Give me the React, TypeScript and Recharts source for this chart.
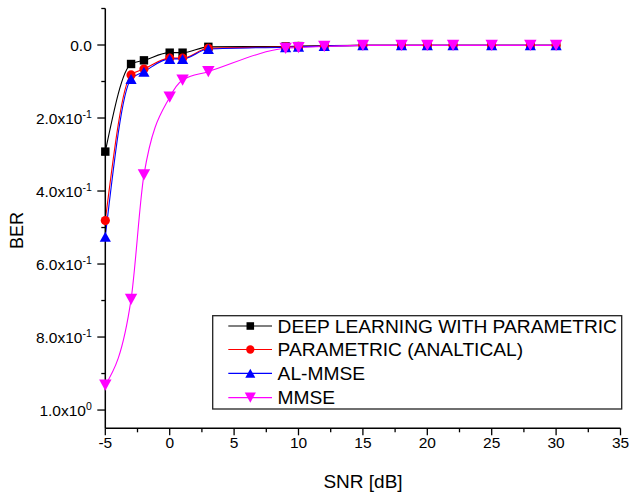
import React from 'react';
import { LineChart, Line, XAxis, YAxis, Legend } from 'recharts';

const snr = [-5, -3, -2, 0, 1, 3, 9, 10, 12, 15, 18, 20, 22, 25, 28, 30];
const deepLearning = [0.292, 0.052, 0.042, 0.021, 0.021, 0.005, 0.004, 0.003, 0.002, 0.001, 0.001, 0.001, 0.001, 0.001, 0.001, 0.001];
const parametric = [0.481, 0.082, 0.066, 0.036, 0.036, 0.009, 0.005, 0.004, 0.003, 0.001, 0.001, 0.001, 0.001, 0.001, 0.001, 0.001];
const alMmse = [0.525, 0.093, 0.073, 0.038, 0.038, 0.011, 0.006, 0.005, 0.003, 0.001, 0.001, 0.001, 0.001, 0.001, 0.001, 0.001];
const mmse = [0.932, 0.697, 0.356, 0.143, 0.096, 0.073, 0.009, 0.007, 0.004, 0.001, 0.001, 0.001, 0.001, 0.001, 0.001, 0.001];

const seriesNames = ['DEEP LEARNING WITH PARAMETRIC', 'PARAMETRIC (ANALTICAL)', 'AL-MMSE', 'MMSE'];
const seriesKeys = ['dl', 'par', 'al', 'mmse'];
const seriesColors = ['#000000', '#ff0000', '#0000ff', '#ff00ff'];
const seriesMarkers = ['square', 'circle', 'triangle', 'down'];

const xMajorTicks = [-5, 0, 5, 10, 15, 20, 25, 30, 35];
const xMinorTicks = [-2.5, 2.5, 7.5, 12.5, 17.5, 22.5, 27.5, 32.5];
const yMajorTicks = [0, 0.2, 0.4, 0.6, 0.8, 1.0];
const yMinorTicks = [-0.1, 0.1, 0.3, 0.5, 0.7, 0.9];
const yTickMantissa = ['0.0', '2.0x10', '4.0x10', '6.0x10', '8.0x10', '1.0x10'];
const yTickExponent = ['', '-1', '-1', '-1', '-1', '0'];

const data = snr.map((x, i) => ({
  snr: x,
  dl: deepLearning[i],
  par: parametric[i],
  al: alMmse[i],
  mmse: mmse[i],
}));

const FONT = '"Liberation Sans", Arial, Helvetica, sans-serif';

function Marker({ kind, cx, cy, color, s = 1 }: any) {
  if (cx == null || cy == null) return null;
  if (kind === 'square') {
    const h = 4.2 * s;
    return <rect x={cx - h} y={cy - h} width={2 * h} height={2 * h} fill={color} />;
  }
  if (kind === 'circle') {
    return <circle cx={cx} cy={cy} r={4.6 * s} fill={color} />;
  }
  if (kind === 'triangle') {
    const w = 5.6 * s;
    const h = 5 * s;
    return <polygon points={`${cx - w},${cy + h} ${cx + w},${cy + h} ${cx},${cy - h}`} fill={color} />;
  }
  const w = 6.2 * s;
  const h = 5.6 * s;
  return <polygon points={`${cx - w},${cy - h} ${cx + w},${cy - h} ${cx},${cy + h}`} fill={color} />;
}

const isIn = (arr: number[], v: number) => arr.some((a) => Math.abs(a - v) < 1e-6);

function XTick(props: any) {
  const { x, y, payload } = props;
  const v = payload.value;
  const major = isIn(xMajorTicks, v);
  return (
    <g>
      <line x1={x} y1={y} x2={x} y2={y + (major ? 7 : 4)} stroke="#000" strokeWidth={1.3} />
      {major && (
        <text x={x} y={y + 19.5} textAnchor="middle" fontSize={15.5} fontFamily={FONT} fill="#000">
          {v}
        </text>
      )}
    </g>
  );
}

function YTick(props: any) {
  const { x, y, payload } = props;
  const v = payload.value;
  const idx = yMajorTicks.findIndex((a) => Math.abs(a - v) < 1e-6);
  const major = idx >= 0;
  return (
    <g>
      <line x1={x - (major ? 8 : 4)} y1={y} x2={x} y2={y} stroke="#000" strokeWidth={1.3} />
      {major && (
        <text x={x - 13.5} y={y + 5.5} textAnchor="end" fontSize={15.5} fontFamily={FONT} fill="#000">
          {yTickMantissa[idx]}
          {yTickExponent[idx] && (
            <tspan dy={-6} fontSize={10.5}>
              {yTickExponent[idx]}
            </tspan>
          )}
        </text>
      )}
    </g>
  );
}

function LegendBox() {
  const rows = [11, 34.5, 58.3, 82.6];
  return (
    <svg width={411} height={96} style={{ display: 'block' }}>
      <rect x={0.7} y={0.7} width={409} height={93.3} fill="#fff" stroke="#222" strokeWidth={1.3} />
      {seriesNames.map((name, i) => (
        <g key={name}>
          <line x1={16.3} x2={60} y1={rows[i]} y2={rows[i]} stroke={seriesColors[i]} strokeWidth={1.2} />
          <Marker kind={seriesMarkers[i]} cx={38.3} cy={rows[i]} color={seriesColors[i]} s={0.9} />
          <text x={65.6} y={rows[i] + 6.8} fontSize={19.2} fontFamily={FONT} fill="#000">
            {name}
          </text>
        </g>
      ))}
    </svg>
  );
}

export default function App() {
  return (
    <div style={{ position: 'absolute', left: 0, top: 0, width: 629, height: 492, background: '#fff' }}>
      <LineChart
        width={629}
        height={492}
        data={data}
        margin={{ top: 8.5, right: 8.5, bottom: 23.7, left: 15.3 }}
      >
        <XAxis
          dataKey="snr"
          type="number"
          domain={[-5, 35]}
          ticks={[...xMajorTicks, ...xMinorTicks].sort((a, b) => a - b)}
          interval={0}
          tickSize={0}
          tickMargin={0}
          tickLine={false}
          tick={(p: any) => <XTick {...p} />}
          height={40}
          axisLine={{ stroke: '#000', strokeWidth: 1.5 }}
          label={{
            content: () => (
              <text x={363} y={487.5} textAnchor="middle" fontSize={19} fontFamily={FONT} fill="#000">
                SNR [dB]
              </text>
            ),
          }}
        />
        <YAxis
          type="number"
          domain={[-0.1, 1.05]}
          reversed
          ticks={[...yMajorTicks, ...yMinorTicks].sort((a, b) => a - b)}
          interval={0}
          tickSize={0}
          tickMargin={0}
          tickLine={false}
          tick={(p: any) => <YTick {...p} />}
          width={90}
          axisLine={{ stroke: '#000', strokeWidth: 1.5 }}
          label={{
            content: () => (
              <text
                x={23}
                y={230.5}
                transform="rotate(-90, 23, 230.5)"
                textAnchor="middle"
                fontSize={18}
                fontFamily={FONT}
                fill="#000"
              >
                BER
              </text>
            ),
          }}
        />
        {seriesKeys.map((k, i) => (
          <Line
            key={k}
            dataKey={k}
            name={seriesNames[i]}
            type="monotoneX"
            stroke={seriesColors[i]}
            strokeWidth={1.1}
            isAnimationActive={false}
            activeDot={false}
            dot={(p: any) => (
              <Marker key={`${k}-${p.index}`} kind={seriesMarkers[i]} cx={p.cx} cy={p.cy} color={seriesColors[i]} />
            )}
          />
        ))}
        <Legend
          layout="horizontal"
          verticalAlign="middle"
          align="center"
          wrapperStyle={{ position: 'absolute', left: 212, top: 315, width: 411, height: 96 }}
          content={() => <LegendBox />}
        />
      </LineChart>
    </div>
  );
}
